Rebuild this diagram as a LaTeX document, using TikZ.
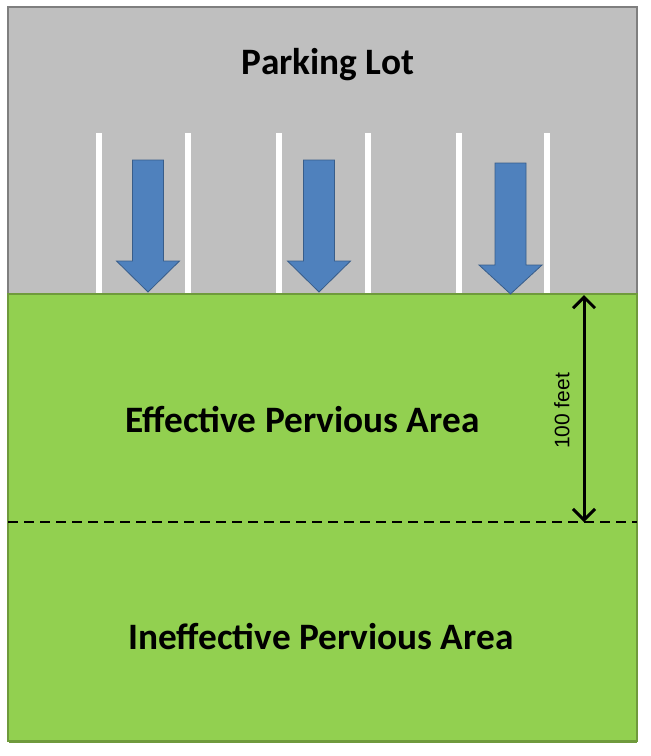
\documentclass[tikz,border=0pt]{standalone}
\usepackage{fontspec}
\setmainfont{Carlito}
\newfontfamily\arialfont{Liberation Sans}
\usetikzlibrary{arrows.meta}
\definecolor{lotgray}{HTML}{BFBFBF}
\definecolor{lotedge}{HTML}{7F7F7F}
\definecolor{lawngreen}{HTML}{92D050}
\definecolor{lawnedge}{HTML}{6F9A3C}
\definecolor{flowblue}{HTML}{4F81BD}
\definecolor{flowedge}{HTML}{385D8A}
\tikzset{
  arealabel/.style={font=\fontsize{37.3}{40}\selectfont\bfseries, anchor=base, inner sep=0pt},
  stripe/.style={fill=white},
  flowarrow/.style={fill=flowblue, draw=flowedge, line width=0.8},
  barb/.style={Straight Barb[length=11pt,width=22pt,line width=3pt]},
}
\begin{document}
\begin{tikzpicture}[x=1pt,y=-1pt]
			\useasboundingbox (0,0) rectangle (651,756);
			\draw [fill=lotgray, draw=lotedge, line width=1.5] (8,7) rectangle (637,294);
			\draw [fill=lawngreen, draw=lawnedge, line width=1.5] (8,294) rectangle (637,741);
			\draw [lawnedge, line width=1.2] (9,742.5) -- (637,742.5);
			\foreach \s in {99,188,279,368,458.5,547}
				\fill [stripe] (\s-3,133) rectangle (\s+3,293);
			\foreach \a/\t/\h/\p in {148/160/261/292, 319/160/261/292, 510.5/163/265/294}
				\draw [flowarrow] (\a-15.5,\t) -- (\a+15.5,\t) -- (\a+15.5,\h) -- (\a+31.5,\h) -- (\a,\p) -- (\a-31.5,\h) -- (\a-15.5,\h) -- cycle;
			\draw [line width=2.2, dash pattern=on 10pt off 6pt] (8,522) -- (637,522);
			\coordinate (top) at (584,295);
			\coordinate (bottom) at (584,522);
			\draw [{Straight Barb[length=11pt,width=22pt,line width=3pt]}-{Straight Barb[length=11pt,width=22pt,line width=3pt]}, line width=3] (top) -- (bottom);
			\node [rotate=90, font=\arialfont\fontsize{21}{24}\selectfont, inner sep=0pt] (dist) at (562,411) {100 feet};
			\node [arealabel] (lot) at (328,74) {Parking Lot};
			\node [arealabel] (eff) at (302.5,432) {Effective Pervious Area};
			\node [arealabel] (ineff) at (321,649) {Ineffective Pervious Area};
		\end{tikzpicture}
\end{document}
